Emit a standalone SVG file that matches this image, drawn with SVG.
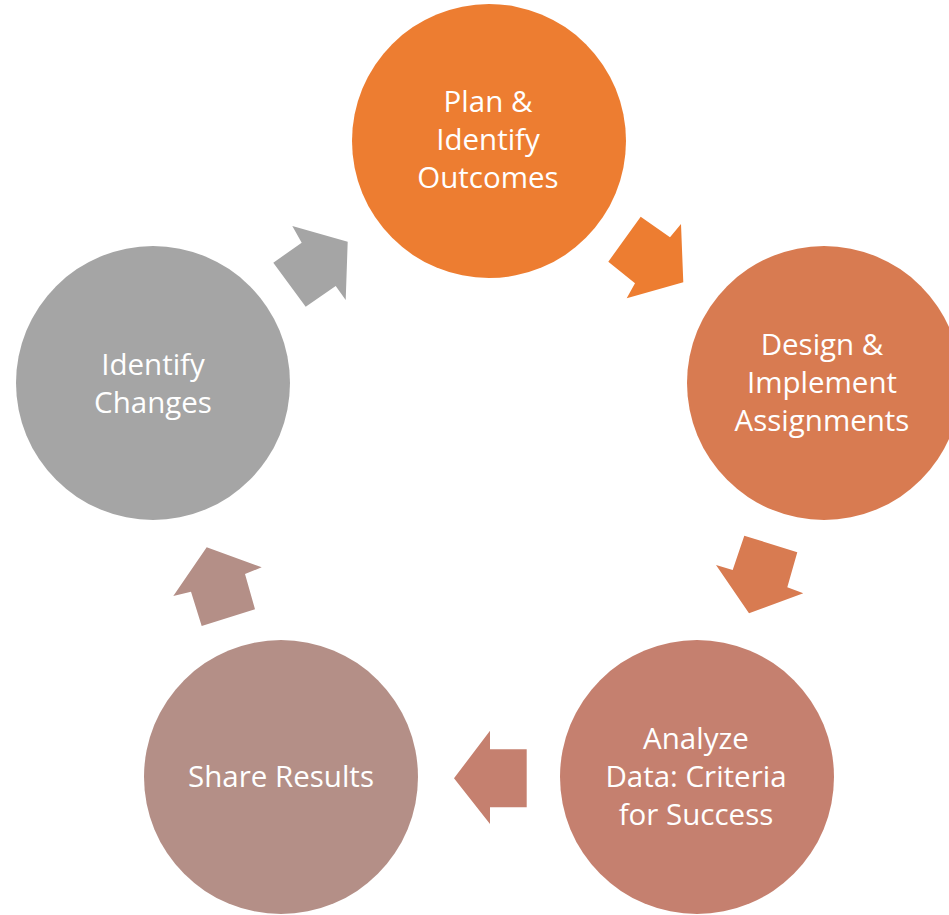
<svg xmlns="http://www.w3.org/2000/svg" width="949" height="915" viewBox="0 0 949 915">
<style>
text{font-family:"Open Sans","Noto Sans","Liberation Sans",sans-serif;font-size:29.5px;fill:#ffffff;text-anchor:middle}
</style>
<rect width="949" height="915" fill="#ffffff"/>
<g id="connectors">
<polygon fill="#ED7D31" points="640.7,216.7 670,237.3 681,224 683.3,282.3 626.7,298.3 635,283.3 608.3,261.7"/>
<polygon fill="#D87B51" points="744.3,535.7 797.3,552.3 787.3,587.3 803.3,593.3 749,613.3 716,565 732.7,570"/>
<polygon fill="#C5806F" points="526.7,749.3 490,749.3 490,730.7 454,778.3 490,824 490,807.3 526.7,807.3"/>
<polygon fill="#B48F87" points="201.7,626 255,609.3 245,574 261.7,567.3 206.7,547.3 173.3,596 191,591.7"/>
<polygon fill="#A5A5A5" points="273.3,262.7 301.7,242.7 292.3,226 347.7,241.7 345.7,300 335.7,286 305.7,306.7"/>
</g>
<g id="node-plan">
<circle cx="489" cy="141" r="137" fill="#ED7D31"/>
<text x="488" y="112">Plan &amp;</text>
<text x="488" y="150">Identify</text>
<text x="488" y="188">Outcomes</text>
</g>
<g id="node-design">
<circle cx="824" cy="383" r="137" fill="#D87B51"/>
<text x="822" y="355">Design &amp;</text>
<text x="822" y="393">Implement</text>
<text x="822" y="431">Assignments</text>
</g>
<g id="node-analyze">
<circle cx="697" cy="777" r="137" fill="#C5806F"/>
<text x="696" y="749">Analyze</text>
<text x="696" y="787">Data: Criteria</text>
<text x="696" y="825">for Success</text>
</g>
<g id="node-share">
<circle cx="281" cy="777" r="137" fill="#B48F87"/>
<text x="281" y="787">Share Results</text>
</g>
<g id="node-identify">
<circle cx="153" cy="383" r="137" fill="#A5A5A5"/>
<text x="153" y="375">Identify</text>
<text x="153" y="413">Changes</text>
</g>
</svg>
